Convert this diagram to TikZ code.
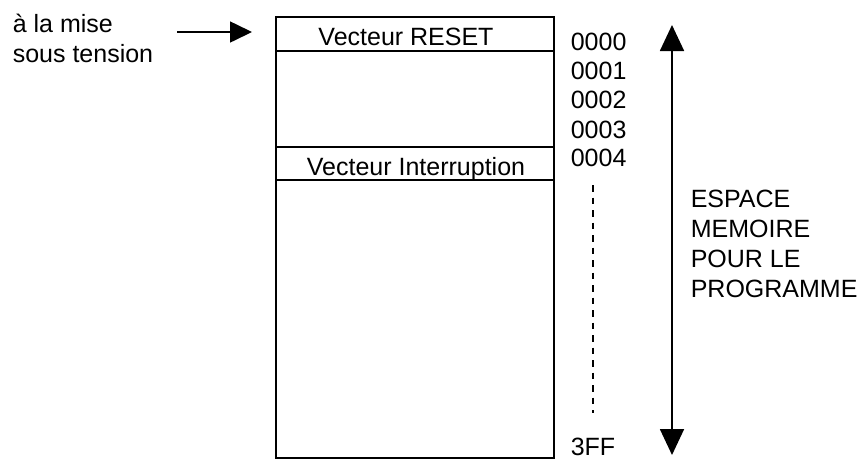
\documentclass[tikz,border=0pt]{standalone}
\usepackage{fontspec}
\setmainfont{Liberation Sans}
\usetikzlibrary{arrows.meta}
\begin{document}
\begin{tikzpicture}[x=1pt,y=-1pt,
  font=\fontsize{25}{29.7}\selectfont,
  line width=1.6pt,
  txt/.style={inner sep=0pt, anchor=base west, align=left},
  ctxt/.style={inner sep=0pt, anchor=base},
  cell/.style={draw, inner sep=0pt, anchor=north west, minimum width=278pt}]
\useasboundingbox (0,0) rectangle (859,459);
% left label and arrow (base anchor = last line)
\node[txt] (power) at (12,62) {à la mise\\sous tension};
\coordinate (pa) at (177,32);
\coordinate (pb) at (252,32);
\draw[-{Triangle[length=22pt,width=21pt]}] (pa) -- (pb);
% memory map
\node[cell, minimum height=441pt] (mem) at (275,16) {};
\node[cell, minimum height=34pt] (reset) at (275,16) {};
\node[cell, minimum height=33pt] (irq) at (275,146) {};
\node[ctxt] (resettxt) at (406,45) {Vecteur RESET};
\node[ctxt] (irqtxt) at (416,175) {Vecteur Interruption};
% addresses
\node[txt] (a0) at (570,50) {0000};
\node[txt] (a1) at (570,79) {0001};
\node[txt] (a2) at (570,108) {0002};
\node[txt] (a3) at (570,138) {0003};
\node[txt] (a4) at (570,166) {0004};
\node[txt] (a5) at (570,455) {3FF};
\coordinate (d0) at (593,185);
\coordinate (d1) at (593,413);
\draw[line width=2.6pt, dash pattern=on 6.5pt off 6pt] (d0) -- (d1);
% vertical arrow
\coordinate (v0) at (672,25);
\coordinate (v1) at (672,455);
\draw[line width=1.8pt, {Triangle[length=26pt,width=24pt]}-{Triangle[length=26pt,width=24pt]}] (v0) -- (v1);
\node[txt] (esp) at (690,297) {ESPACE\\MEMOIRE\\POUR LE\\PROGRAMME};
\end{tikzpicture}
\end{document}
